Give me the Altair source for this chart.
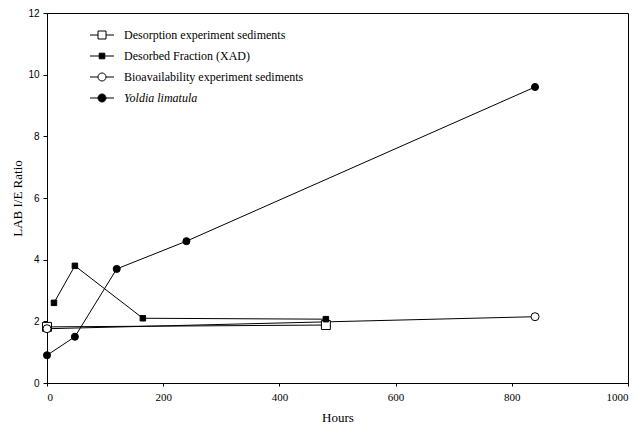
import altair as alt
import pandas as pd

# ---- data ----
series_names = [
    "Desorption experiment sediments",
    "Desorbed Fraction (XAD)",
    "Bioavailability experiment sediments",
    "Yoldia limatula",
]

des_hours = [0, 480]
des_ratio = [1.82, 1.88]

xad_hours = [12, 48, 165, 480]
xad_ratio = [2.6, 3.8, 2.1, 2.07]

bio_hours = [0, 840]
bio_ratio = [1.76, 2.15]

yol_hours = [0, 48, 120, 240, 840]
yol_ratio = [0.9, 1.5, 3.7, 4.6, 9.6]

x_ticks = [0, 200, 400, 600, 800, 1000]
y_ticks = [0, 2, 4, 6, 8, 10, 12]

rows = []
for name, hs, rs in [
    (series_names[0], des_hours, des_ratio),
    (series_names[1], xad_hours, xad_ratio),
    (series_names[2], bio_hours, bio_ratio),
    (series_names[3], yol_hours, yol_ratio),
]:
    for h, r in zip(hs, rs):
        rows.append({"series": name, "hours": h, "ratio": r})
df = pd.DataFrame(rows)

plain_shapes = ["square", "square", "circle", "circle"]
fills = ["white", "black", "white", "black"]
strokes = ["black", "black", "black", "black"]
sizes = [80, 30, 64, 50]

# legend symbols: marker with a short line through it
legend_paths = [
    "M-3,0H-1M1,0H3M-1,-1H1V1H-1Z",
    "M-3,0H-0.7M0.7,0H3M-0.7,-0.7H0.7V0.7H-0.7Z",
    "M-3,0H-1M1,0H3M-1,0A1,1,0,1,1,1,0A1,1,0,1,1,-1,0Z",
    "M-3,0H-1M1,0H3M-1,0A1,1,0,1,1,1,0A1,1,0,1,1,-1,0Z",
]

x_enc = alt.X(
    "hours:Q",
    scale=alt.Scale(domain=[0, 1000], nice=False, zero=False),
    axis=alt.Axis(
        values=x_ticks, title="Hours", tickSize=3, labelPadding=5, format="d",
        labelFont="Liberation Serif", labelFontSize=11,
        titleFont="Liberation Serif", titleFontSize=13, titlePadding=9,
    ),
)
y_enc = alt.Y(
    "ratio:Q",
    scale=alt.Scale(domain=[0, 12], nice=False),
    axis=alt.Axis(
        values=y_ticks, title="LAB I/E Ratio", tickSize=4, labelPadding=4,
        labelFont="Liberation Sans", labelFontSize=10,
        titleFont="Liberation Serif", titleFontSize=13, titlePadding=3,
    ),
)

base = alt.Chart(df)

lines = base.mark_line(color="black", strokeWidth=1).encode(
    x=x_enc, y=y_enc, detail="series:N"
)

point_layers = []
for name, shp, fl, sz in zip(series_names, plain_shapes, fills, sizes):
    point_layers.append(
        base.transform_filter(alt.datum.series == name)
        .mark_point(shape=shp, filled=True, fill=fl, stroke="black",
                    strokeWidth=1, size=sz, opacity=1)
        .encode(x=x_enc, y=y_enc)
    )

leg = alt.Legend(
    title=None, orient="none", legendX=49, legendY=16, padding=0,
    symbolSize=64, symbolStrokeWidth=1,
    symbolOpacity=1, labelOffset=16, rowPadding=9,
    labelFont="Liberation Serif", labelFontSize=12, labelColor="black",
    labelFontStyle=alt.ExprRef("datum.label == 'Yoldia limatula' ? 'italic' : 'normal'"),
    labelLimit=400,
)

legend_layer = base.mark_point(filled=True, strokeWidth=1, opacity=0).encode(
    x=x_enc,
    y=y_enc,
    shape=alt.Shape("series:N", scale=alt.Scale(domain=series_names, range=legend_paths), legend=leg),
    fill=alt.Fill("series:N", scale=alt.Scale(domain=series_names, range=fills), legend=leg),
    stroke=alt.Stroke("series:N", scale=alt.Scale(domain=series_names, range=strokes), legend=leg),
)

chart = (
    alt.layer(lines, *point_layers, legend_layer)
    .properties(
        width=581, height=370,
        autosize=alt.AutoSizeParams(type="none"),
        padding={"left": 47, "top": 13, "right": 8, "bottom": 44},
        background="white",
    )
    .configure_view(stroke="black", strokeWidth=1)
    .configure_axis(
        grid=False, domainColor="black", tickColor="black",
        labelColor="black", titleColor="black", titleFontWeight="normal",
    )
)

chart.save("out.html", embed_options={"renderer": "svg", "actions": False})
